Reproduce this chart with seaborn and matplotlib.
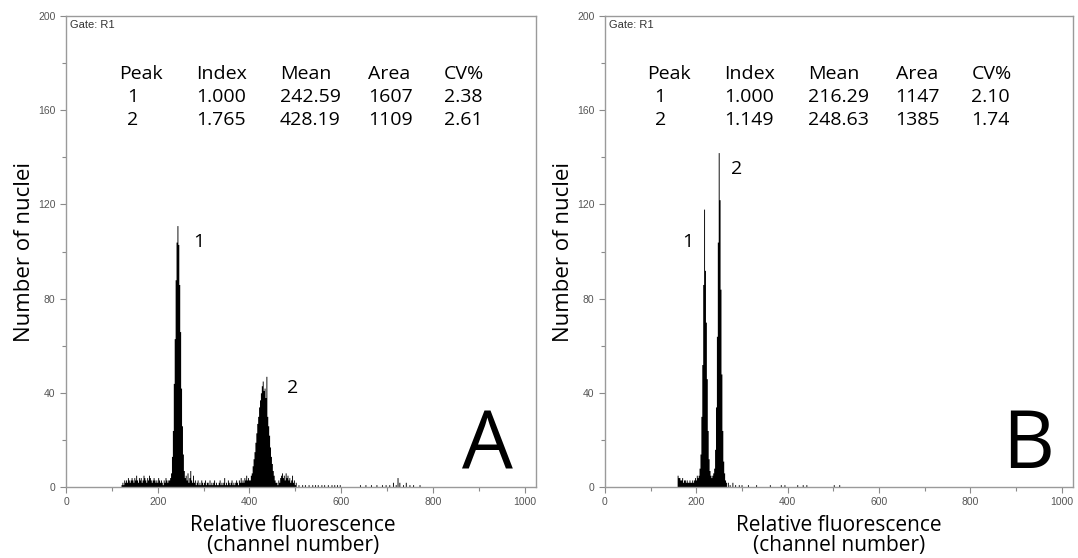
import numpy as np
import pandas as pd
import seaborn as sns
import matplotlib.pyplot as plt
from matplotlib.ticker import MultipleLocator

# counts per channel in steps of 2 channels
# panel A
a_noise_start = 120
a_noise = [1, 2, 1, 3, 2, 3, 2, 4, 3, 2, 3, 4, 3, 2, 4, 3, 5, 3, 2, 4,
           3, 4, 2, 3, 5, 4, 3, 2, 4, 3, 5, 4, 3, 2, 3, 4, 3, 2, 3, 2,
           4, 3, 2, 3, 2, 1, 3, 2, 4, 3, 2, 3, 3]
a_peak1_start = 226
a_peak1 = [4, 6, 13, 24, 44, 63, 88, 104, 111, 103, 86, 66, 42, 26, 14, 7, 4]
a_mid_start = 260
a_mid = [5, 3, 6, 2, 4, 7, 3, 2, 5, 2, 3, 1, 2, 3, 1, 2, 1, 3, 2, 1,
         2, 3, 1, 2, 2, 1, 3, 1, 2, 1, 2, 3, 1, 2, 1, 1, 2, 3, 1, 2,
         1, 2, 4, 1, 2, 1, 3, 2, 1, 2, 3, 1, 2, 1, 2, 3, 2, 1, 3, 2,
         4, 2, 3, 2, 4, 3, 5, 3, 4]
a_peak2_start = 398
a_peak2 = [3, 3, 5, 6, 9, 12, 15, 19, 23, 27, 30, 34, 37, 40, 43, 45, 41, 42, 38, 47,
           30, 26, 22, 17, 13, 10, 7, 5, 3, 2, 2, 1]
a_tail_start = 462
a_tail = [3, 2, 4, 5, 6, 4, 5, 3, 6, 4, 5, 3, 4, 2, 3, 5, 2, 3, 1, 2]
a_sparse_ch = [506, 514, 520, 528, 536, 542, 548, 556, 562, 570,
               578, 584, 590, 596, 640, 652, 664, 676, 688, 696,
               704, 712, 718, 722, 726, 734, 740, 748, 756, 770]
a_sparse = [1, 1, 1, 1, 1, 1, 1, 1, 1, 1, 1, 1, 1, 1, 1, 1, 1, 1, 1, 1,
            1, 2, 1, 4, 2, 1, 2, 1, 1, 1]

# panel B
b_noise_start = 158
b_noise = [5, 4, 4, 3, 3, 4, 2, 3, 3, 2, 3, 2, 2, 3, 2, 2, 3, 2, 3, 4, 3, 5, 4]
b_peak1_start = 204
b_peak1 = [5, 8, 14, 30, 52, 86, 118, 92, 70, 46, 24, 12, 7, 5, 4, 5, 6]
b_peak2_start = 238
b_peak2 = [8, 16, 34, 64, 104, 142, 122, 84, 48, 24, 11, 6, 3, 2]
b_sparse_ch = [268, 272, 278, 284, 292, 298, 312, 330, 360, 384, 392, 420, 432, 440, 500, 512]
b_sparse = [2, 1, 2, 1, 1, 1, 1, 1, 1, 1, 1, 1, 1, 1, 1, 1]

# peak tables
table_cols = ["Peak", "Index", "Mean", "Area", "CV%"]
a_rows = [["1", "1.000", "242.59", "1607", "2.38"],
          ["2", "1.765", "428.19", "1109", "2.61"]]
b_rows = [["1", "1.000", "216.29", "1147", "2.10"],
          ["2", "1.149", "248.63", "1385", "1.74"]]


def segment(start, vals):
    return pd.DataFrame({"channel": np.arange(start, start + 2 * len(vals), 2), "count": vals})


df_a = pd.concat([segment(a_noise_start, a_noise), segment(a_peak1_start, a_peak1),
                  segment(a_mid_start, a_mid), segment(a_peak2_start, a_peak2),
                  segment(a_tail_start, a_tail),
                  pd.DataFrame({"channel": a_sparse_ch, "count": a_sparse})])
df_b = pd.concat([segment(b_noise_start, b_noise), segment(b_peak1_start, b_peak1),
                  segment(b_peak2_start, b_peak2),
                  pd.DataFrame({"channel": b_sparse_ch, "count": b_sparse})])

sns.set_style("white")
plt.rcParams['font.family'] = ['Open Sans', 'DejaVu Sans']
plt.rcParams['text.color'] = 'black'
plt.rcParams['axes.labelcolor'] = 'black'

fig = plt.figure(figsize=(10.78, 5.58), dpi=100)
axA = fig.add_axes([66 / 1078, 71 / 558, 470 / 1078, 471 / 558])
axB = fig.add_axes([605 / 1078, 71 / 558, 468 / 1078, 471 / 558])

panels = [(axA, df_a, a_rows, 0.113, 0.130, [0.277, 0.455, 0.643, 0.804], "A", 0.896,
           [(278, 104, "1"), (481, 42, "2")], 0.483),
          (axB, df_b, b_rows, 0.089, 0.106, [0.255, 0.434, 0.621, 0.783], "B", 0.904,
           [(170, 104, "1"), (277, 135, "2")], 0.50)]

for ax, df, rows, xpeak, xnum, xcols, letter, xletter, labels, xlab in panels:
    sns.histplot(data=df, x="channel", weights="count", binwidth=2, binrange=(0, 1024),
                 element="step", fill=True, color="black", alpha=1, linewidth=0, ax=ax)
    ax.set_xlim(0, 1025)
    ax.set_ylim(0, 200)
    ax.xaxis.set_major_locator(MultipleLocator(200))
    ax.xaxis.set_minor_locator(MultipleLocator(100))
    ax.yaxis.set_major_locator(MultipleLocator(40))
    ax.yaxis.set_minor_locator(MultipleLocator(20))
    ax.tick_params(which="both", direction="out", color="#8a8a8a", labelcolor="#555555",
                   labelsize=7.5, width=0.8, bottom=True, left=True)
    ax.tick_params(which="major", length=4)
    ax.tick_params(which="minor", length=3)
    for lab in ax.get_xticklabels() + ax.get_yticklabels():
        lab.set_family("Liberation Sans")
    for s in ax.spines.values():
        s.set_color("#9a9a9a")
        s.set_linewidth(1)
    ax.set_ylabel("Number of nuclei", fontsize=16)
    ax.yaxis.set_label_coords(-0.066, 0.5)
    ax.set_xlabel("Relative fluorescence\n(channel number)", fontsize=15, linespacing=0.92)
    ax.xaxis.set_label_coords(xlab, -0.06)
    ax.text(0.008, 0.992, "Gate: R1", transform=ax.transAxes, fontsize=8,
            family="Liberation Sans", color="#333333", va="top", ha="left")

    # table
    ys = [0.866, 0.817, 0.769]
    ax.text(xpeak, ys[0], table_cols[0], transform=ax.transAxes, fontsize=14)
    for c, x in zip(table_cols[1:], xcols):
        ax.text(x, ys[0], c, transform=ax.transAxes, fontsize=14)
    for r, y in zip(rows, ys[1:]):
        ax.text(xnum, y, r[0], transform=ax.transAxes, fontsize=14)
        for v, x in zip(r[1:], xcols):
            ax.text(x, y, v, transform=ax.transAxes, fontsize=14)

    for lx, ly, t in labels:
        ax.text(lx, ly, t, fontsize=14, ha="left", va="center")
    ax.text(xletter, 0.04, letter, transform=ax.transAxes, fontsize=58, ha="center",
            va="baseline")

fig.savefig("out.png", dpi=100)
